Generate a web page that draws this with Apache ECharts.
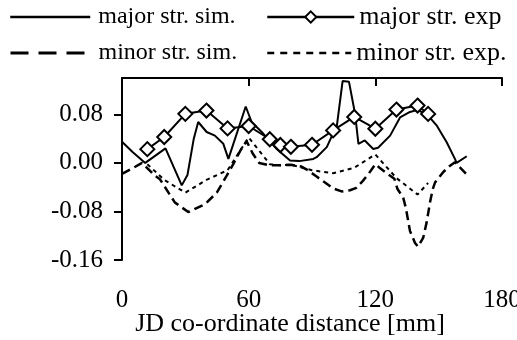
<!DOCTYPE html>
<html><head><meta charset="utf-8">
<script src="https://cdn.jsdelivr.net/npm/echarts@6/dist/echarts.min.js"></script>
<style>html,body{margin:0;padding:0;background:#fff}#c{width:517px;height:340px}</style>
</head><body><div id="c"></div>
<script>
const FONT = '"Liberation Serif", "Times New Roman", serif';
const xTicks = [0, 60, 120, 180];
const yTicks = [-0.16, -0.08, 0, 0.08];

const majorSimX = [0, 5, 11, 15, 20.6, 28.3, 31, 34, 36.1, 40.1, 44, 48, 50.4, 58.6, 61.4, 67, 73.3, 79.6, 84, 90.6, 92.2, 97, 99.5, 101.7, 104.5, 107.5, 110.4, 112, 115, 119, 121.3, 127, 131.7, 136.4, 139.7, 144.3, 149, 153.8, 157.7, 158.5, 163.3];
const majorSimY = [0.035, 0.018, 0.0, 0.01, 0.024, -0.037, -0.02, 0.04, 0.0675, 0.051, 0.045, 0.0315, 0.0066, 0.093, 0.0675, 0.048, 0.023, 0.004, 0.003, 0.0066, 0.0095, 0.026, 0.045, 0.059, 0.135, 0.134, 0.081, 0.0315, 0.037, 0.023, 0.025, 0.045, 0.075, 0.084, 0.087, 0.081, 0.062, 0.034, 0.0066, 0.0, 0.011];

const expX = [12, 20, 30, 40, 50, 60, 70, 75, 80, 90, 100, 110, 120, 130, 140, 145];
const majorExpY = [0.0227, 0.0427, 0.0809, 0.0863, 0.0569, 0.0609, 0.039, 0.0295, 0.0266, 0.0299, 0.0536, 0.0758, 0.0564, 0.088, 0.0946, 0.0808];
const minorExpY = [-0.002, -0.028, -0.049, -0.028, -0.012, 0.042, -0.002, -0.004, -0.003, -0.012, -0.017, -0.008, 0.014, -0.025, -0.052, -0.033];

const minorSimX = [0, 5.4, 9.5, 15.6, 18, 25, 31.4, 39.3, 44.9, 49.6, 52.7, 56, 59, 62, 65, 70, 75, 80, 85, 88, 92, 96, 100, 104, 108, 111, 114, 117, 120, 122, 125, 129, 130.5, 133.2, 134.5, 136.4, 138.8, 140.2, 142.7, 144.3, 145.9, 147.2, 148.3, 152.2, 155.4, 157.7, 163];
const minorSimY = [-0.018, -0.008, 0.0, -0.021, -0.027, -0.065, -0.081, -0.068, -0.049, -0.021, -0.002, 0.02, 0.036, 0.015, 0.0, -0.004, -0.004, -0.003, -0.006, -0.012, -0.022, -0.032, -0.042, -0.047, -0.045, -0.041, -0.03, -0.017, -0.002, -0.008, -0.016, -0.026, -0.043, -0.057, -0.075, -0.112, -0.132, -0.138, -0.123, -0.098, -0.065, -0.043, -0.032, -0.015, -0.0045, 0.001, -0.018];

const names = ['major str. sim.', 'major str. exp', 'minor str. sim.', 'minor str. exp.'];

const pairs = (xs, ys) => xs.map((x, i) => [x, ys[i]]);

const chart = echarts.init(document.getElementById('c'), null, {renderer: 'canvas'});
const txt = {fontFamily: FONT, fontSize: 24, color: '#000'};
const txtR = {fontFamily: FONT, fontSize: 26, color: '#000'};
const noSym = {color: 'rgba(0,0,0,0)', borderWidth: 0, opacity: 0};
function leg(item, left, top, extra) {
  return Object.assign({
    data: [item], left: left, top: top, orient: 'horizontal',
    itemWidth: 80, itemHeight: 14, itemGap: 0, padding: 0,
    selectedMode: false, textStyle: txt
  }, extra || {});
}
chart.setOption({
  animation: false,
  backgroundColor: '#fff',
  legend: [
    leg({name: names[0], itemStyle: noSym, lineStyle: {type: 'solid', width: 2.5}}, 9, 5,
      {textStyle: Object.assign({}, txt, {padding: [0, 0, 0, 3]})}),
    leg({name: names[1], lineStyle: {width: 2.5}}, 266, 4, {itemWidth: 87, textStyle: txtR}),
    leg({name: names[2], itemStyle: noSym, lineStyle: {type: [18, 10], width: 3}}, 9, 41,
      {textStyle: Object.assign({}, txt, {padding: [0, 0, 0, 3]})}),
    leg({name: names[3], itemStyle: noSym, lineStyle: {type: [7, 6], width: 2.5}}, 266, 40,
      {itemWidth: 84, textStyle: txtR})
  ],
  grid: {left: 122, right: 15, top: 78, bottom: 80, containLabel: false, outerBoundsMode: 'none'},
  xAxis: [{
    type: 'value', min: 0, max: 180, interval: 60, position: 'bottom',
    axisLine: {show: false}, axisTick: {show: false}, splitLine: {show: false},
    axisLabel: {margin: 28, fontFamily: FONT, fontSize: 25, color: '#000', showMaxLabel: true},
    name: 'JD co-ordinate distance [mm]', nameLocation: 'middle', nameGap: 51, nameMoveOverlap: false,
    nameTextStyle: {fontFamily: FONT, fontSize: 26, color: '#000', padding: [0, 44, 0, 0]}
  }, {
    type: 'value', min: 0, max: 180, interval: 60, position: 'top',
    axisLine: {show: true, onZero: true, lineStyle: {color: '#000', width: 2}},
    axisTick: {show: true, inside: true, length: 8, lineStyle: {color: '#000', width: 2}},
    axisLabel: {show: false}, splitLine: {show: false}
  }],
  yAxis: {
    type: 'value', min: -0.16, max: 0.14,
    axisLine: {show: true, onZero: false, lineStyle: {color: '#000', width: 2}},
    axisTick: {show: true, length: 8, customValues: yTicks, lineStyle: {color: '#000', width: 2}},
    axisLabel: {customValues: yTicks, margin: 19, fontFamily: FONT, fontSize: 25, color: '#000',
      formatter: v => v.toFixed(2)},
    splitLine: {show: false}
  },
  series: [
    {name: names[0], type: 'line', data: pairs(majorSimX, majorSimY), symbol: 'none',
      lineStyle: {color: '#000', width: 2}, itemStyle: {color: '#000'}, z: 3},
    {name: names[1], type: 'line', data: pairs(expX, majorExpY), symbol: 'diamond', symbolSize: 14,
      lineStyle: {color: '#000', width: 2}, itemStyle: {color: '#fff', borderColor: '#000', borderWidth: 2}, z: 4},
    {name: names[2], type: 'line', data: pairs(minorSimX, minorSimY), symbol: 'none',
      lineStyle: {color: '#000', width: 2.5, type: [9, 5]}, itemStyle: {color: '#000'}, z: 2},
    {name: names[3], type: 'line', data: pairs(expX, minorExpY), symbol: 'none',
      lineStyle: {color: '#000', width: 2, type: [4, 4]}, itemStyle: {color: '#000'}, z: 2}
  ]
});
</script></body></html>
